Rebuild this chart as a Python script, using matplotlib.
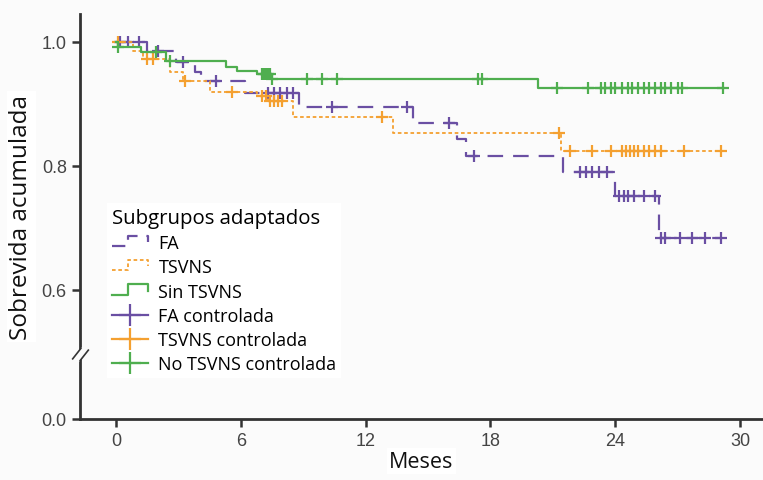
import numpy as np
import matplotlib.pyplot as plt
from matplotlib.lines import Line2D
from matplotlib.path import Path
from matplotlib.legend_handler import HandlerBase

# Kaplan-Meier curves (months, cumulative survival)
fa_t = [0, 1.5, 2.9, 3.8, 4.1, 6.2, 8.8, 14.3, 16.4, 16.8, 21.5, 24.0, 26.1, 29.1]
fa_s = [1.0, 0.985, 0.968, 0.952, 0.937, 0.918, 0.895, 0.87, 0.844, 0.816, 0.79, 0.752, 0.684, 0.684]
fa_c = [0.2, 0.6, 1.1, 2.0, 3.2, 4.8, 7.3, 7.6, 7.9, 8.2, 8.5, 10.4, 14.0, 16.0, 17.2,
        22.3, 22.6, 22.9, 23.2, 23.6, 24.2, 24.4, 24.6, 24.9, 25.4, 25.9,
        26.2, 26.4, 27.1, 27.7, 28.3, 29.1]

ts_t = [0, 0.8, 1.3, 2.6, 3.2, 4.5, 6.8, 7.3, 8.5, 13.3, 21.4, 29.1]
ts_s = [1.0, 0.985, 0.973, 0.952, 0.937, 0.92, 0.912, 0.905, 0.879, 0.853, 0.824, 0.824]
ts_c = [0.1, 1.5, 1.8, 3.3, 5.6, 7.0, 7.2, 7.4, 7.6, 7.8, 8.0, 12.8, 21.3, 21.8, 22.9,
        23.8, 24.3, 24.5, 24.7, 24.9, 25.1, 25.4, 25.6, 25.9, 26.2, 27.3, 29.1]

st_t = [0, 0.1, 1.2, 2.4, 5.3, 5.8, 6.8, 7.5, 20.3, 29.2]
st_s = [1.0, 0.991, 0.984, 0.97, 0.96, 0.953, 0.948, 0.94, 0.926, 0.926]
st_c = [0.1, 1.9, 2.6, 7.0, 7.1, 7.2, 7.3, 7.4, 7.5, 9.2, 9.9, 10.6, 17.4, 17.6,
        21.2, 22.7, 23.3, 23.5, 23.8, 24.0, 24.3, 24.6, 24.8, 25.1, 25.4, 25.6,
        25.9, 26.2, 26.4, 26.7, 27.0, 27.2, 29.2]

x_ticks = [0, 6, 12, 18, 24, 30]
y_ticks = [0.0, 0.6, 0.8, 1.0]

purple = '#6a4fa3'
orange = '#f4a030'
green = '#4fae4f'
txt_font = ['Open Sans', 'DejaVu Sans']
num_font = ['Liberation Sans', 'DejaVu Sans']


def km_at(times, surv, t):
    idx = np.searchsorted(times, t, side='right') - 1
    return np.asarray(surv)[idx]


# broken y axis: below 0.5 the scale is squeezed
def fwd(v):
    v = np.asarray(v, float)
    return np.where(v >= 0.5, v, 0.5 - (0.5 - v) * 0.216)


def inv(u):
    u = np.asarray(u, float)
    return np.where(u >= 0.5, u, 0.5 - (0.5 - u) / 0.216)


class StepHandler(HandlerBase):
    def create_artists(self, legend, orig_handle, xdescent, ydescent,
                       width, height, fontsize, trans):
        x0, y0 = -xdescent, -ydescent
        xs = [x0, x0 + 0.45 * width, x0 + 0.45 * width, x0 + width, x0 + width]
        ys = [y0 + 0.15 * height, y0 + 0.15 * height, y0 + 0.95 * height,
              y0 + 0.95 * height, y0 + 0.45 * height]
        ln = Line2D(xs, ys)
        ln.update_from(orig_handle)
        ln.set_transform(trans)
        return [ln]


fig = plt.figure(figsize=(7.63, 4.81), dpi=100, facecolor='#fbfbfb')
ax = fig.add_axes([80 / 763, 1 - 420 / 481, 683 / 763, 405 / 481])
ax.set_facecolor('#fbfbfb')
ax.set_yscale('function', functions=(fwd, inv))

curves = [
    (fa_t, fa_s, fa_c, purple, dict(dashes=(7, 4.5)), 1.6),
    (ts_t, ts_s, ts_c, orange, dict(dashes=(2, 1.5)), 1.3),
    (st_t, st_s, st_c, green, dict(linestyle='-'), 1.6),
]
for t, s, c, col, style, lw in curves:
    ax.step(t, s, where='post', color=col, lw=lw, **style)
    ax.plot(c, km_at(t, s, c), linestyle='none', marker='+', ms=9, mew=1.6, color=col)

ax.set_xlim(-1.73, 31.1)
ax.set_ylim(0, 1.045)
ax.set_xticks(x_ticks)
ax.set_yticks(y_ticks)
ax.set_yticklabels([f'{v:.1f}' for v in y_ticks])
ax.tick_params(axis='both', colors='#333333', labelcolor='#444444', width=1.8,
               length=6, labelsize=13)
for lab in ax.get_xticklabels() + ax.get_yticklabels():
    lab.set_family(num_font)
for side in ['top', 'right']:
    ax.spines[side].set_visible(False)
for side in ['left', 'bottom']:
    ax.spines[side].set_linewidth(2)
    ax.spines[side].set_color('#333333')

# axis break mark
gap = Path([(-1, -0.5), (0.2, 0.9), (1, 0.5), (-0.2, -0.9), (-1, -0.5)])
slashes = Path([(-1, -0.6), (0.1, 0.8), (-0.1, -0.8), (1, 0.6)],
               [Path.MOVETO, Path.LINETO, Path.MOVETO, Path.LINETO])
ax.plot([0], [0.485], transform=ax.get_yaxis_transform(), marker=gap, ms=12,
        color='#fbfbfb', mec='none', clip_on=False, zorder=5)
ax.plot([0], [0.485], transform=ax.get_yaxis_transform(), marker=slashes, ms=12,
        color='#333333', mew=1.2, clip_on=False, zorder=6)

ax.set_xlabel('Meses', fontsize=15.5, family=txt_font, color='#111111', labelpad=1,
              bbox=dict(facecolor='white', edgecolor='none', pad=2))
ax.set_ylabel('Sobrevida acumulada', fontsize=17.5, family=txt_font, color='#111111',
              labelpad=6, bbox=dict(facecolor='white', edgecolor='none', pad=2))

labels = ['FA', 'TSVNS', 'Sin TSVNS', 'FA controlada', 'TSVNS controlada', 'No TSVNS controlada']
step_handles = [Line2D([], [], color=purple, lw=1.6, dashes=(6, 4)),
                Line2D([], [], color=orange, lw=1.3, dashes=(2, 1.5)),
                Line2D([], [], color=green, lw=1.6)]
cens_handles = [Line2D([], [], color=col, lw=1.6, marker='+', ms=16, mew=1.6)
                for col in (purple, orange, green)]
leg = ax.legend(step_handles + cens_handles, labels, loc='upper left',
                bbox_to_anchor=(98 / 763, 1 - 195 / 481), bbox_transform=fig.transFigure,
                title='Subgrupos adaptados', alignment='left', frameon=True,
                facecolor='white', edgecolor='none', framealpha=1, fancybox=False,
                handlelength=2.0, handletextpad=0.6, labelspacing=0.35, borderpad=0.25,
                prop={'family': txt_font, 'size': 13},
                handler_map={h: StepHandler() for h in step_handles})
leg.get_title().set_fontsize(14.7)
leg.get_title().set_family(txt_font)

fig.savefig('out.png', dpi=100, facecolor=fig.get_facecolor())
